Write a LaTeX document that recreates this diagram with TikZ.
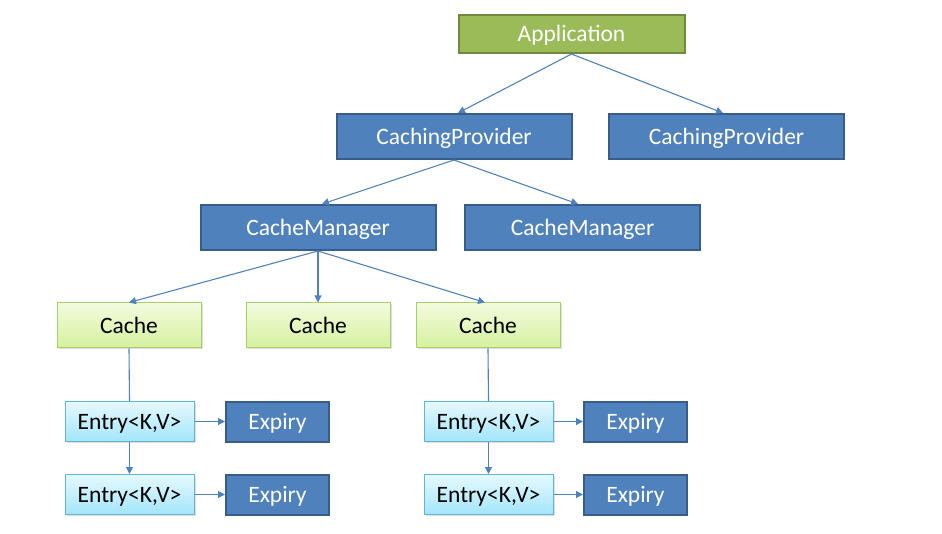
\documentclass[tikz,border=0pt]{standalone}
\usepackage{fontspec}
\setmainfont{Carlito}
\usetikzlibrary{arrows.meta,shadows}
\definecolor{appfill}{HTML}{9BBB59}
\definecolor{appline}{HTML}{71893F}
\definecolor{bluefill}{HTML}{4F81BD}
\definecolor{blueline}{HTML}{385D8A}
\definecolor{cachetop}{HTML}{F3FBDE}
\definecolor{cachebot}{HTML}{D5F19E}
\definecolor{cacheline}{HTML}{A8CE6C}
\definecolor{entrytop}{HTML}{E6F9FF}
\definecolor{entrybot}{HTML}{A3E5FA}
\definecolor{entryline}{HTML}{5DB7D3}
\definecolor{arrowcol}{HTML}{4F81BD}
\tikzset{
  box/.style={draw, inner sep=0pt, text height=16pt, text depth=0pt,
    font=\fontsize{23.5}{28}\selectfont},
  appbox/.style={box, fill=appfill, draw=appline, line width=2pt, text=white,
    minimum width=226pt, minimum height=38pt},
  bluebox/.style={box, fill=bluefill, draw=blueline, line width=2pt, text=white},
  widebox/.style={bluebox, minimum width=235pt, minimum height=45pt},
  expbox/.style={bluebox, minimum width=103pt, minimum height=40pt},
  cachebox/.style={box, top color=cachetop, bottom color=cachebot, draw=cacheline,
    line width=1pt, text=black, minimum width=144pt, minimum height=45pt,
    drop shadow={shadow xshift=1.5pt, shadow yshift=-1.5pt, opacity=0.25}},
  entrybox/.style={box, top color=entrytop, bottom color=entrybot, draw=entryline,
    line width=1pt, text=black, minimum width=129pt, minimum height=40pt,
    drop shadow={shadow xshift=1.5pt, shadow yshift=-1.5pt, opacity=0.25}},
  conn/.style={draw=arrowcol, line width=1.1pt, -{Triangle[length=7pt,width=7pt]}},
  plainconn/.style={draw=arrowcol, line width=1.1pt}
}
\begin{document}
\begin{tikzpicture}[x=1pt,y=-1pt]
\useasboundingbox (0,0) rectangle (942,534);
\node[appbox] (app) at (571.5,34) {Application};
\node[widebox] (cp1) at (454,136.5) {CachingProvider};
\node[widebox] (cp2) at (726.5,136.5) {CachingProvider};
\node[widebox] (cm1) at (318,227.5) {CacheManager};
\node[widebox] (cm2) at (582.5,227.5) {CacheManager};
\node[cachebox] (c1) at (129,325.5) {Cache};
\node[cachebox] (c2) at (318,325.5) {Cache};
\node[cachebox] (c3) at (488,325.5) {Cache};
\node[entrybox] (e1) at (129.5,421.5) {Entry<K,V>};
\node[entrybox] (e2) at (129.5,494.5) {Entry<K,V>};
\node[entrybox] (e3) at (488.5,421.5) {Entry<K,V>};
\node[entrybox] (e4) at (488.5,494.5) {Entry<K,V>};
\node[expbox] (x1) at (277.5,421.5) {Expiry};
\node[expbox] (x2) at (277.5,494.5) {Expiry};
\node[expbox] (x3) at (635.5,421.5) {Expiry};
\node[expbox] (x4) at (635.5,494.5) {Expiry};
\draw[conn] (app.south) -- ([xshift=4pt]cp1.north);
\draw[conn] (app.south) -- ([xshift=-3.5pt]cp2.north);
\draw[conn] (cp1.south) -- ([xshift=4pt]cm1.north);
\draw[conn] (cp1.south) -- ([xshift=-4.5pt]cm2.north);
\draw[conn] (cm1.south) -- (c1.north);
\draw[conn] (cm1.south) -- (c2.north);
\draw[conn] (cm1.south) -- ([xshift=-3pt]c3.north);
\draw[plainconn] (c1.south) -- (e1.north);
\draw[plainconn] (c3.south) -- (e3.north);
\draw[conn] (e1.south) -- (e2.north);
\draw[conn] (e3.south) -- (e4.north);
\draw[conn] (e1.east) -- (x1.west);
\draw[conn] (e2.east) -- (x2.west);
\draw[conn] (e3.east) -- (x3.west);
\draw[conn] (e4.east) -- (x4.west);
\end{tikzpicture}
\end{document}
